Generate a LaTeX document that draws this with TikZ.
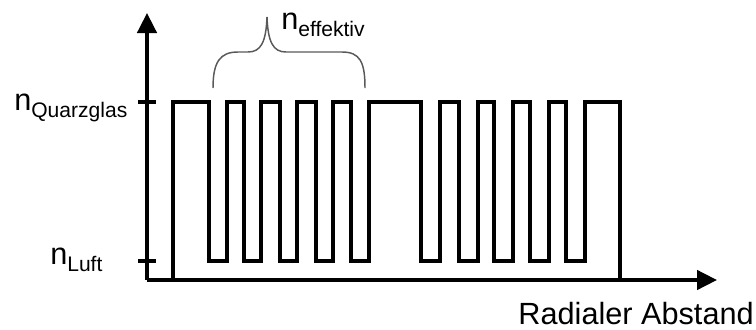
\documentclass[tikz,border=0pt]{standalone}
\usepackage{fontspec}
\setmainfont{Liberation Sans}
\usetikzlibrary{arrows.meta}
\newcommand{\nsub}[1]{n\raisebox{-5.25pt}{\fontsize{15.8}{19}\selectfont #1}}
\tikzset{
  axis/.style={line width=2.6pt, -{Triangle[length=15pt,width=14.5pt]}},
  tickline/.style={line width=2.6pt},
  signal/.style={line width=2.3pt, line join=miter},
  bracestyle/.style={line width=1.1pt, draw=black!65},
  lbl/.style={inner sep=0pt, font=\fontsize{23}{27}\selectfont},
}
\begin{document}
\begin{tikzpicture}[x=0.75pt,y=-0.75pt]
\useasboundingbox (0,0) rectangle (756,329);
% axes
\coordinate (O) at (147,280);
\coordinate (ytip) at (147,13);
\coordinate (xtip) at (717,280);
\draw[axis] (O) -- (ytip);
\draw[axis] (O) -- (xtip);
% ticks
\coordinate (tq1) at (138,102); \coordinate (tq2) at (156,102);
\coordinate (tl1) at (138,261); \coordinate (tl2) at (156,261);
\draw[tickline] (tq1) -- (tq2);
\draw[tickline] (tl1) -- (tl2);
% signal
\def\hi{102}\def\lo{261}
\draw[signal] (173,280) -- (173,\hi) -- (209,\hi) -- (209,\lo)
  -- (227,\lo) -- (227,\hi) -- (244,\hi) -- (244,\lo)
  -- (261,\lo) -- (261,\hi) -- (280,\hi) -- (280,\lo)
  -- (297,\lo) -- (297,\hi) -- (316,\hi) -- (316,\lo)
  -- (333,\lo) -- (333,\hi) -- (351,\hi) -- (351,\lo)
  -- (369,\lo) -- (369,\hi) -- (421,\hi) -- (421,\lo)
  -- (440,\lo) -- (440,\hi) -- (459,\hi) -- (459,\lo)
  -- (478,\lo) -- (478,\hi) -- (494,\hi) -- (494,\lo)
  -- (513,\lo) -- (513,\hi) -- (530,\hi) -- (530,\lo)
  -- (549,\lo) -- (549,\hi) -- (566,\hi) -- (566,\lo)
  -- (585,\lo) -- (585,\hi) -- (620,\hi) -- (620,280);
% brace
\draw[bracestyle] (213,88) .. controls (213,62) and (220,52) .. (238,52)
  -- (248,52) .. controls (261,52) and (266,42) .. (267,17)
  .. controls (268,42) and (273,52) .. (286,52)
  -- (342,52) .. controls (360,52) and (365,62) .. (365,88);
% labels
\node[lbl, anchor=base west] (neff) at (281,29) {\nsub{effektiv}};
\node[lbl, anchor=base west] (nq) at (14,110) {\nsub{Quarzglas}};
\node[lbl, anchor=base west] (nl) at (50,264) {\nsub{Luft}};
\node[lbl, anchor=base east] (xl) at (754,324) {Radialer Abstand};
\end{tikzpicture}
\end{document}
